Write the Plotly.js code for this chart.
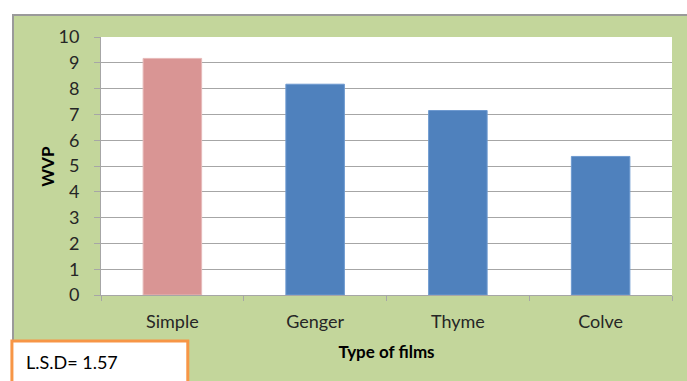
<!DOCTYPE html>
<html>
<head>
<meta charset="utf-8">
<script src="https://cdn.plot.ly/plotly-3.0.1.min.js"></script>
<style>
html,body{margin:0;padding:0;background:#fff;}
#bg{position:absolute;left:12px;top:14px;width:675px;height:367px;background:#C3D69B;border-left:2px solid #9a9a9a;border-top:2px solid #9a9a9a;box-sizing:border-box;}
#chart{position:absolute;left:0;top:0;width:687px;height:381px;}
</style>
</head>
<body>
<div id="bg"></div>
<div id="chart"></div>
<script>
const categories = ["Simple", "Genger", "Thyme", "Colve"];
const wvp = [9.17, 8.17, 7.15, 5.37];
const barColors = ["#D99594", "#4F81BD", "#4F81BD", "#4F81BD"];
const lineColors = ["#E6B9B8", "#6E9AD0", "#6E9AD0", "#6E9AD0"];
const yTicks = [0,1,2,3,4,5,6,7,8,9,10];
const lsdText = "L.S.D= 1.57";

const font = "Lato, 'Open Sans', sans-serif";
const trace = {
  type: "bar",
  x: categories,
  y: wvp,
  width: 0.41,
  marker: {color: barColors, line: {color: lineColors, width: 1}},
  hoverinfo: "none"
};
const layout = {
  width: 687, height: 381,
  margin: {l: 101, r: 15, t: 37, b: 86},
  paper_bgcolor: "rgba(0,0,0,0)",
  plot_bgcolor: "#ffffff",
  showlegend: false,
  font: {family: font, size: 18, color: "#262626"},
  xaxis: {
    type: "category",
    showline: true, linecolor: "#A6A6A6", linewidth: 1,
    ticks: "outside", tickson: "boundaries", ticklen: 5, tickcolor: "#A6A6A6",
    ticklabelstandoff: 10,
    tickfont: {family: font, size: 18, color: "#262626"},
    title: {text: "<b>Type of films</b>", font: {family: font, size: 17, color: "#000"}, standoff: 15},
    showgrid: false
  },
  yaxis: {
    range: [0, 10], tickvals: yTicks, ticktext: yTicks.map(String),
    showline: true, linecolor: "#A6A6A6", linewidth: 1,
    ticks: "outside", ticklen: 6, tickcolor: "#A6A6A6",
    ticklabelstandoff: 11,
    showgrid: true, gridcolor: "#A6A6A6", gridwidth: 1,
    zeroline: false,
    tickfont: {family: font, size: 18, color: "#262626"}
  },
  shapes: [{
    type: "rect", xref: "paper", yref: "paper",
    x0: -0.156, x1: 0.152, y0: -0.178, y1: -0.36,
    line: {color: "#F79646", width: 3}, fillcolor: "#ffffff", layer: "above"
  }],
  annotations: [{
    xref: "paper", yref: "paper", x: -0.134, y: -0.259,
    xanchor: "left", yanchor: "middle", showarrow: false,
    text: lsdText, font: {family: font, size: 18, color: "#000"}
  }, {
    xref: "paper", yref: "paper", x: -0.095, y: 0.5,
    xanchor: "center", yanchor: "middle", showarrow: false, textangle: -90,
    text: "<b>WVP</b>", font: {family: font, size: 17, color: "#000"}
  }]
};
Plotly.newPlot("chart", [trace], layout, {displayModeBar: false, staticPlot: true});
</script>
</body>
</html>
